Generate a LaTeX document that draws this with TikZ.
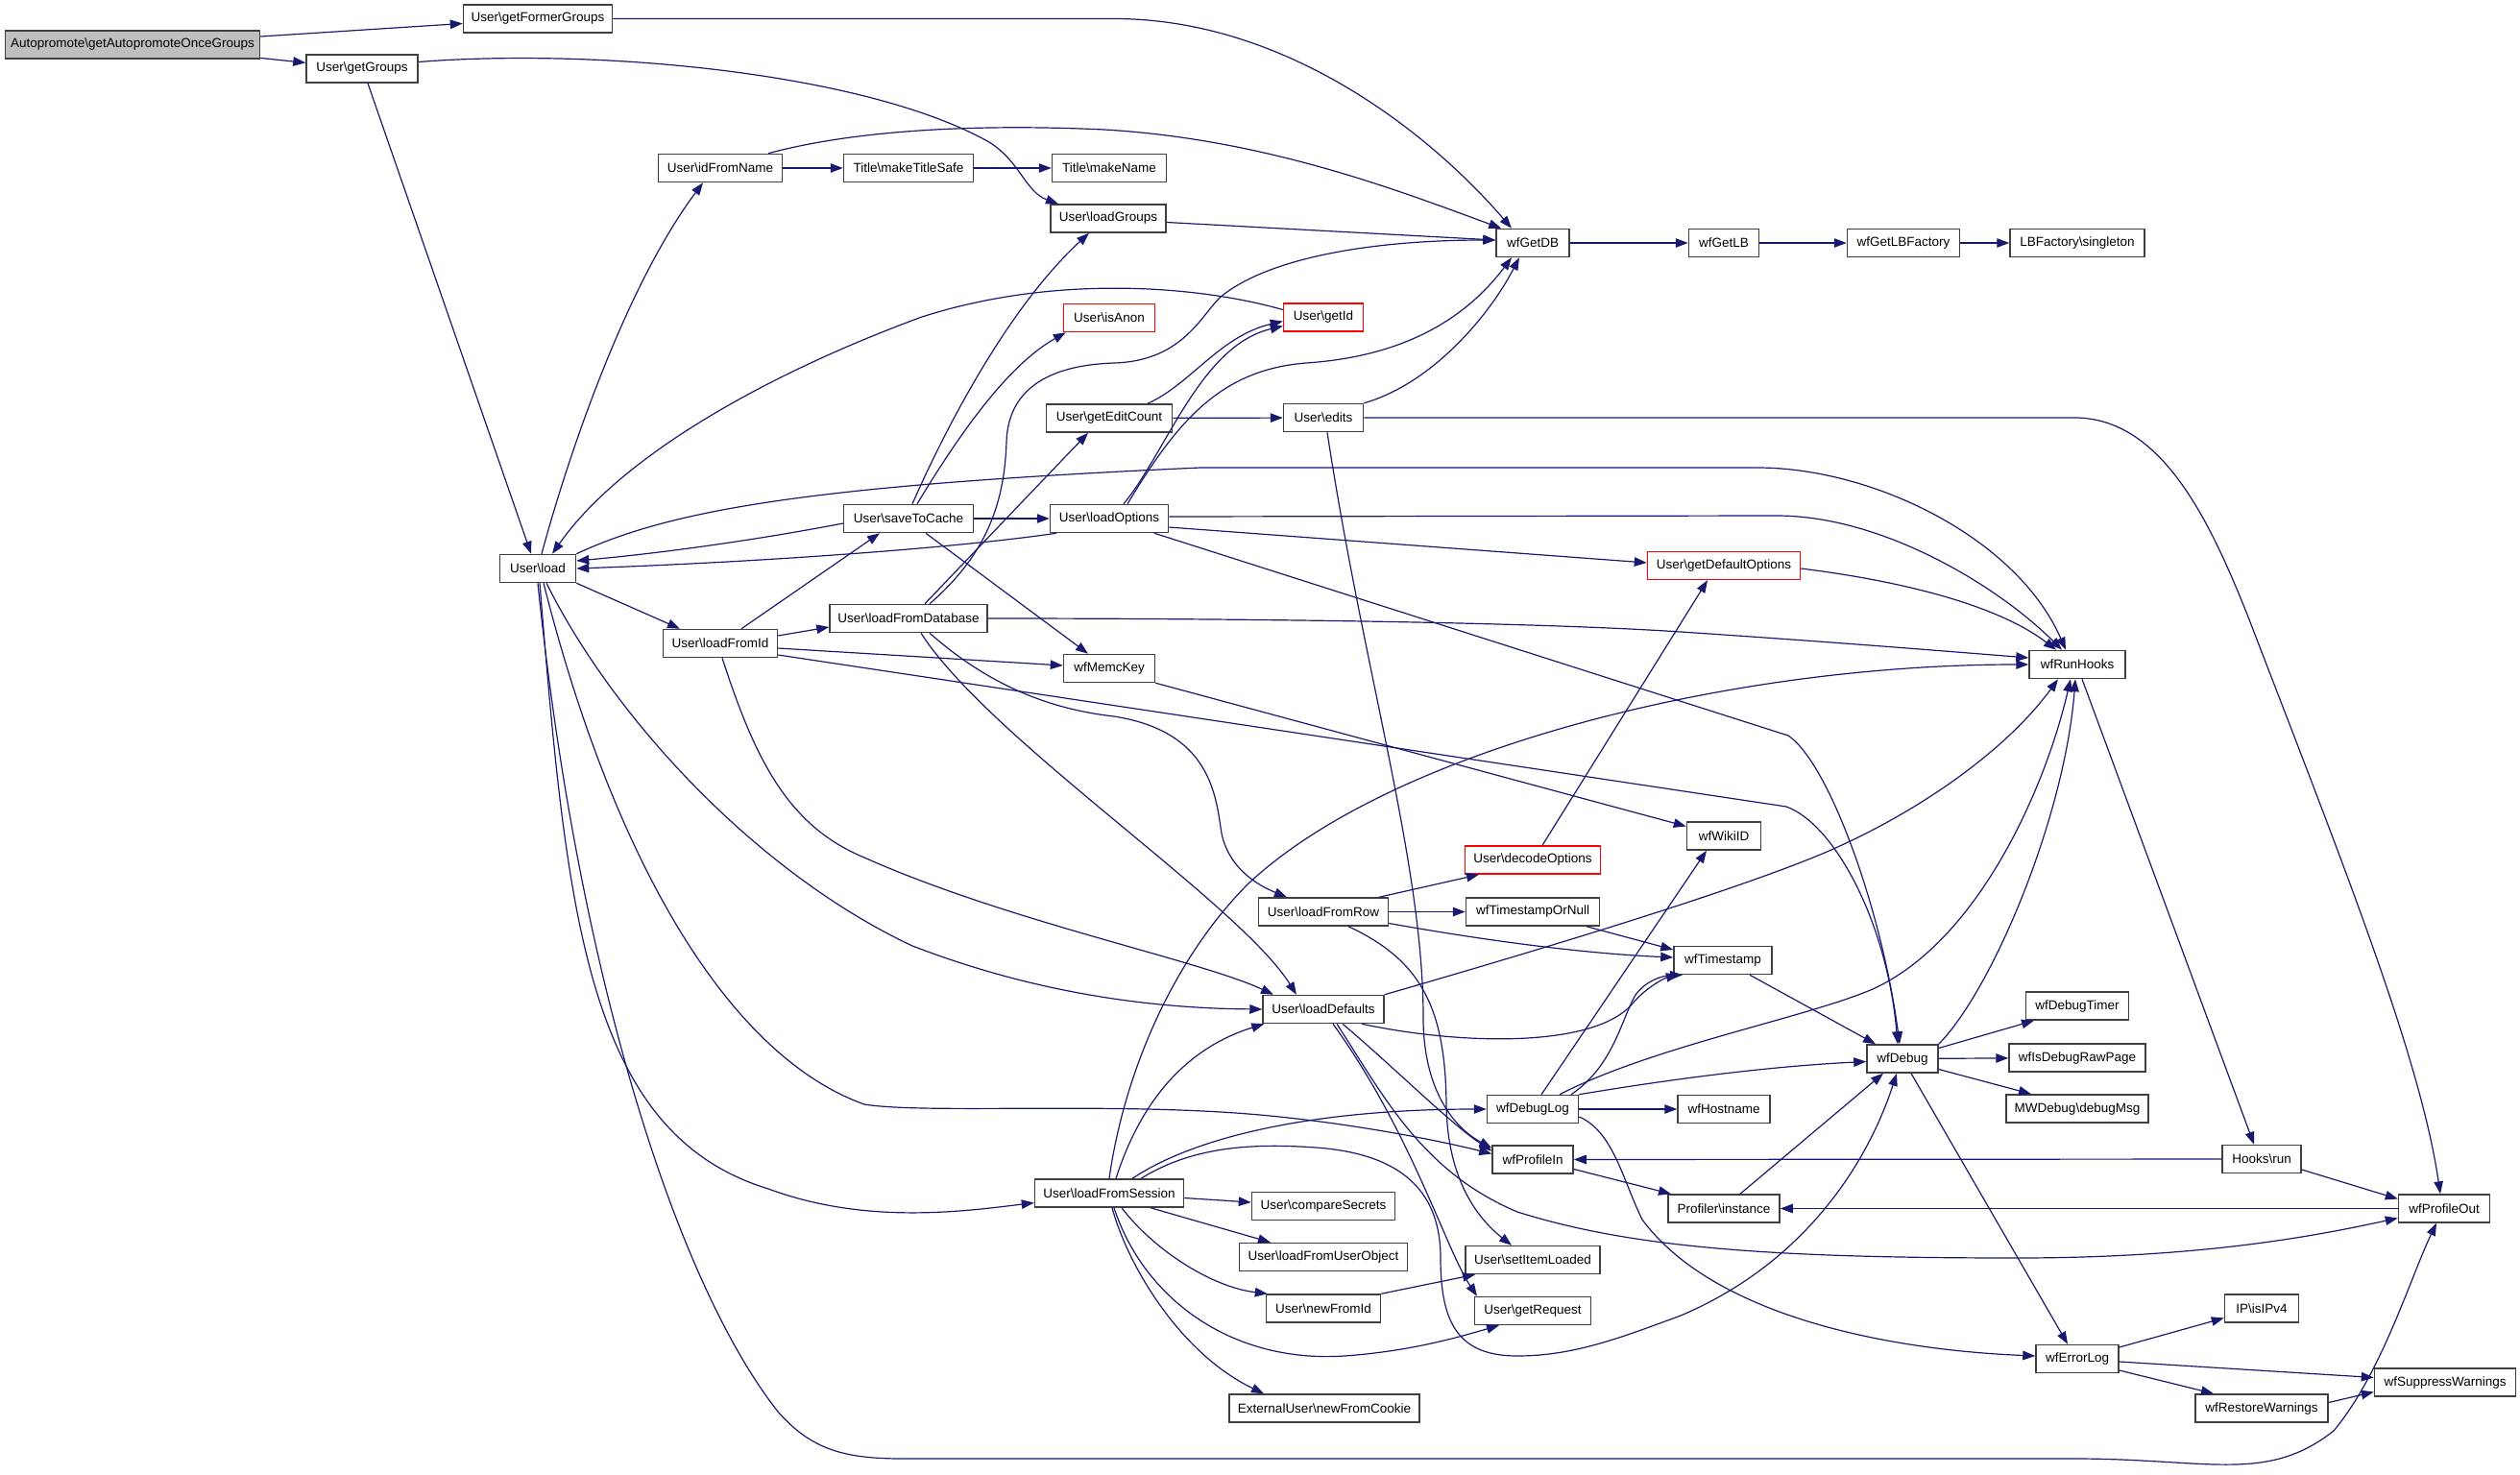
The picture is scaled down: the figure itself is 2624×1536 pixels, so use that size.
\documentclass[tikz,border=0pt]{standalone}
\usepackage{fontspec}
\setmainfont{Liberation Sans}
\usetikzlibrary{arrows.meta}
\newcommand{\bksl}{\textbackslash}
\definecolor{edgeblue}{HTML}{191970}
\definecolor{boxgray}{HTML}{BFBFBF}
\begin{document}
\begin{tikzpicture}[x=1pt,y=-1pt,
  fn/.style={draw=black!75, line width=1.5pt, rectangle, minimum height=29pt, inner sep=0pt,
    font=\fontsize{13.5}{16}\selectfont, fill=white},
  redbox/.style={draw=red},
  conn/.style={draw=edgeblue, line width=1.2pt, -{Triangle[length=13pt,width=9.5pt]}}]
\useasboundingbox (0,0) rectangle (2624,1536);
% nodes
\node[fn, minimum width=265pt, fill=boxgray] (auto) at (138,46.5) {Autopromote\bksl getAutopromoteOnceGroups};
\node[fn, minimum width=155pt] (formerGroups) at (560,19.5) {User\bksl getFormerGroups};
\node[fn, minimum width=116pt] (getGroups) at (377,71.5) {User\bksl getGroups};
\node[fn, minimum width=129pt] (idFromName) at (750,175) {User\bksl idFromName};
\node[fn, minimum width=135pt] (makeTitleSafe) at (946,175) {Title\bksl makeTitleSafe};
\node[fn, minimum width=119pt] (makeName) at (1155,175) {Title\bksl makeName};
\node[fn, minimum width=120pt] (loadGroups) at (1154,227.5) {User\bksl loadGroups};
\node[fn, minimum width=76pt] (wfGetDB) at (1596,253) {wfGetDB};
\node[fn, minimum width=73pt] (wfGetLB) at (1795,253) {wfGetLB};
\node[fn, minimum width=117pt] (wfGetLBFactory) at (1982,253) {wfGetLBFactory};
\node[fn, minimum width=140pt] (LBsingleton) at (2163,253) {LBFactory\bksl singleton};
\node[fn, redbox, minimum width=95pt] (isAnon) at (1155,331) {User\bksl isAnon};
\node[fn, redbox, minimum width=83pt] (getId) at (1378,330.5) {User\bksl getId};
\node[fn, minimum width=131pt] (getEditCount) at (1155,435.5) {User\bksl getEditCount};
\node[fn, minimum width=83pt] (edits) at (1378,435) {User\bksl edits};
\node[fn, minimum width=135pt] (saveToCache) at (946,540) {User\bksl saveToCache};
\node[fn, minimum width=123pt] (loadOptions) at (1155,540) {User\bksl loadOptions};
\node[fn, minimum width=79pt] (load) at (560,592) {User\bksl load};
\node[fn, redbox, minimum width=159pt] (getDefaultOptions) at (1795,589) {User\bksl getDefaultOptions};
\node[fn, minimum width=164pt] (loadFromDatabase) at (946,644) {User\bksl loadFromDatabase};
\node[fn, minimum width=119pt] (loadFromId) at (750,670) {User\bksl loadFromId};
\node[fn, minimum width=95pt] (wfMemcKey) at (1155,696) {wfMemcKey};
\node[fn, minimum width=100pt] (wfRunHooks) at (2163,692) {wfRunHooks};
\node[fn, minimum width=77pt] (wfWikiID) at (1795,870.5) {wfWikiID};
\node[fn, redbox, minimum width=141pt] (decodeOptions) at (1596,895.5) {User\bksl decodeOptions};
\node[fn, minimum width=135pt] (loadFromRow) at (1378,949.5) {User\bksl loadFromRow};
\node[fn, minimum width=139pt] (wfTimestampOrNull) at (1596,949.5) {wfTimestampOrNull};
\node[fn, minimum width=102pt] (wfTimestamp) at (1794,1000) {wfTimestamp};
\node[fn, minimum width=126pt] (loadDefaults) at (1378,1051) {User\bksl loadDefaults};
\node[fn, minimum width=107pt] (wfDebugTimer) at (2163,1047.5) {wfDebugTimer};
\node[fn, minimum width=74pt] (wfDebug) at (1981,1102.5) {wfDebug};
\node[fn, minimum width=142pt] (wfIsDebugRawPage) at (2163,1101.5) {wfIsDebugRawPage};
\node[fn, minimum width=95pt] (wfDebugLog) at (1596,1155) {wfDebugLog};
\node[fn, minimum width=96pt] (wfHostname) at (1795,1155) {wfHostname};
\node[fn, minimum width=148pt] (debugMsg) at (2163,1154.5) {MWDebug\bksl debugMsg};
\node[fn, minimum width=84pt] (wfProfileIn) at (1596,1207.5) {wfProfileIn};
\node[fn, minimum width=82pt] (hooksRun) at (2355,1207) {Hooks\bksl run};
\node[fn, minimum width=155pt] (loadFromSession) at (1155,1242.5) {User\bksl loadFromSession};
\node[fn, minimum width=149pt] (compareSecrets) at (1378,1256) {User\bksl compareSecrets};
\node[fn, minimum width=116pt] (profilerInstance) at (1795,1258.5) {Profiler\bksl instance};
\node[fn, minimum width=95pt] (wfProfileOut) at (2545,1258.5) {wfProfileOut};
\node[fn, minimum width=175pt] (loadFromUserObject) at (1378,1309) {User\bksl loadFromUserObject};
\node[fn, minimum width=140pt] (setItemLoaded) at (1596,1312) {User\bksl setItemLoaded};
\node[fn, minimum width=119pt] (newFromId) at (1378,1362.5) {User\bksl newFromId};
\node[fn, minimum width=121pt] (getRequest) at (1596,1365) {User\bksl getRequest};
\node[fn, minimum width=77pt] (isIPv4) at (2355,1362.5) {IP\bksl isIPv4};
\node[fn, minimum width=86pt] (wfErrorLog) at (2163,1415) {wfErrorLog};
\node[fn, minimum width=147pt] (wfSuppressWarnings) at (2546,1439.5) {wfSuppressWarnings};
\node[fn, minimum width=198pt] (newFromCookie) at (1379,1466.5) {ExternalUser\bksl newFromCookie};
\node[fn, minimum width=138pt] (wfRestoreWarnings) at (2355,1466.5) {wfRestoreWarnings};
% edges
\draw[conn] (auto) -- (formerGroups);
\draw[conn] (auto) -- (getGroups);
\draw[conn] (formerGroups.east) -- (1160,19.5) .. controls (1340,19.5) and (1490,140) .. ([xshift=-22pt]wfGetDB.north);
\draw[conn] ([yshift=7pt]getGroups.east) .. controls (620,50) and (900,75) .. (1030,148) .. controls (1062,168) and (1068,200) .. ([xshift=-52pt]loadGroups.north);
\draw[conn] ([xshift=6pt]getGroups.south) -- ([xshift=-7pt]load.north);
\draw[conn] ([xshift=4pt]load.north) .. controls (590,480) and (650,300) .. ([xshift=-18pt]idFromName.south);
\draw[conn] (idFromName) -- (makeTitleSafe);
\draw[conn] ([xshift=50pt]idFromName.north) .. controls (880,138) and (1000,128) .. (1150,135) .. controls (1320,145) and (1460,200) .. ([xshift=6pt]wfGetDB.north west);
\draw[conn] (makeTitleSafe) -- (makeName);
\draw[conn] ([yshift=-4pt]loadGroups.east) -- ([yshift=3pt]wfGetDB.west);
\draw[conn] (wfGetDB) -- (wfGetLB);
\draw[conn] (wfGetLB) -- (wfGetLBFactory);
\draw[conn] (wfGetLBFactory) -- (LBsingleton);
\draw[conn] ([yshift=8pt]getId.west) .. controls (1250,298) and (1100,285) .. (960,330) .. controls (810,385) and (650,470) .. ([xshift=15pt]load.north);
\draw[conn] (load.south east) -- ([xshift=-42pt]loadFromId.north);
\draw[conn] ([xshift=9pt]load.south) .. controls (640,750) and (790,910) .. (950,985) .. controls (1080,1035) and (1200,1050) .. (loadDefaults.west);
\draw[conn] ([xshift=2pt]load.south) .. controls (590,950) and (610,1180) .. (800,1238) .. controls (900,1275) and (1000,1262) .. ([yshift=-10pt]loadFromSession.west);
\draw[conn] ([xshift=6pt]load.south) .. controls (640,900) and (760,1100) .. (900,1150) .. controls (960,1160) and (1150,1148) .. (1300,1160) .. controls (1400,1168) and (1500,1188) .. ([yshift=6pt]wfProfileIn.west);
\draw[conn] (load.south) .. controls (600,1000) and (700,1330) .. (810,1470) .. controls (845,1510) and (880,1519) .. (940,1519) -- (2160,1519) .. controls (2300,1519) and (2360,1545) .. (2430,1490) .. controls (2480,1430) and (2510,1330) .. ([xshift=-8pt]wfProfileOut.south);
\draw[conn] (load.north east) .. controls (700,530) and (850,505) .. (1250,487) -- (1830,487) .. controls (1950,487) and (2100,560) .. ([xshift=-12pt]wfRunHooks.north);
\draw[conn] ([xshift=22pt]loadFromId.north) -- ([xshift=-30pt]saveToCache.south);
\draw[conn] ([yshift=8pt]loadFromId.east) -- ([yshift=-9pt]loadFromDatabase.west);
\draw[conn] ([yshift=-5pt]loadFromId.east) -- ([yshift=3pt]wfMemcKey.west);
\draw[conn] ([yshift=-12pt]loadFromId.east) -- (1860,840) .. controls (1910,858) and (1965,960) .. ([xshift=-5pt]wfDebug.north);
\draw[conn] ([xshift=2pt]loadFromId.south) .. controls (786,790) and (820,860) .. (900,893) .. controls (1050,960) and (1250,1000) .. ([xshift=-52pt]loadDefaults.north);
\draw[conn] ([xshift=4pt]saveToCache.north) .. controls (985,445) and (1050,320) .. ([xshift=-20pt]loadGroups.south);
\draw[conn] ([xshift=9pt]saveToCache.north) .. controls (1000,450) and (1050,380) .. ([xshift=3pt]isAnon.south west);
\draw[conn] ([yshift=-5pt]saveToCache.west) .. controls (800,560) and (700,575) .. ([yshift=8pt]load.east);
\draw[conn] (saveToCache) -- (loadOptions);
\draw[conn] ([xshift=18pt]saveToCache.south) -- ([xshift=-22pt]wfMemcKey.north);
\draw[conn] ([xshift=-55pt]loadOptions.south) .. controls (1000,570) and (800,585) .. (load.east);
\draw[conn] ([xshift=15pt]loadOptions.north) .. controls (1215,470) and (1250,360) .. ([yshift=-9pt]getId.west);
\draw[conn] ([xshift=19pt]loadOptions.north) .. controls (1225,440) and (1270,385) .. (1360,378) .. controls (1450,372) and (1520,340) .. ([xshift=-22pt]wfGetDB.south);
\draw[conn] ([yshift=2pt]loadOptions.east) -- (1850,537) .. controls (1960,537) and (2080,610) .. ([xshift=-16pt]wfRunHooks.north);
\draw[conn] ([yshift=-9pt]loadOptions.east) -- ([yshift=3pt]getDefaultOptions.west);
\draw[conn] ([xshift=47pt]loadOptions.south) -- (1862,766) .. controls (1905,795) and (1960,950) .. ([xshift=-3pt]wfDebug.north);
\draw[conn] ([yshift=-3pt]getDefaultOptions.east) .. controls (1980,605) and (2080,630) .. ([xshift=-22pt]wfRunHooks.north);
\draw[conn] ([xshift=22pt]loadFromDatabase.north) .. controls (1030,575) and (1046,520) .. (1048,460) .. controls (1050,400) and (1100,380) .. (1160,378) .. controls (1230,376) and (1250,330) .. (1270,310) .. controls (1320,268) and (1430,250) .. ([yshift=3pt]wfGetDB.west);
\draw[conn] ([xshift=17pt]loadFromDatabase.north) -- ([xshift=-22pt]getEditCount.south);
\draw[conn] (loadFromDatabase.east) .. controls (1300,644) and (1600,648) .. (1750,658) .. controls (1900,668) and (2000,676) .. ([yshift=7pt]wfRunHooks.west);
\draw[conn] ([xshift=22pt]loadFromDatabase.south) .. controls (1020,705) and (1080,737) .. (1160,746) .. controls (1262,762) and (1266,830) .. (1272,868) .. controls (1280,905) and (1310,922) .. ([xshift=-38pt]loadFromRow.north);
\draw[conn] ([xshift=13pt]loadFromDatabase.south) .. controls (1030,770) and (1290,940) .. ([xshift=-28pt]loadDefaults.north);
\draw[conn] ([xshift=40pt]getEditCount.north) .. controls (1240,400) and (1270,350) .. ([yshift=-4pt]getId.west);
\draw[conn] (getEditCount) -- (edits);
\draw[conn] (edits.north east) .. controls (1490,400) and (1550,330) .. ([xshift=-14pt]wfGetDB.south);
\draw[conn] (edits.east) -- (2160,435) .. controls (2250,435) and (2300,540) .. (2340,640) .. controls (2440,900) and (2520,1100) .. ([xshift=-4pt]wfProfileOut.north);
\draw[conn] ([xshift=4pt]edits.south) .. controls (1420,700) and (1482,900) .. (1482,1060) .. controls (1482,1130) and (1510,1172) .. ([yshift=12pt]wfProfileIn.west);
\draw[conn] (wfMemcKey.south east) -- ([yshift=10pt]wfWikiID.west);
\draw[conn] ([xshift=10pt]decodeOptions.north) -- ([xshift=-17pt]getDefaultOptions.south);
\draw[conn] ([xshift=58pt]loadFromRow.north) -- ([xshift=-56pt]decodeOptions.south);
\draw[conn] (loadFromRow) -- (wfTimestampOrNull);
\draw[conn] ([yshift=-12pt]loadFromRow.east) .. controls (1550,980) and (1650,993) .. ([yshift=3pt]wfTimestamp.west);
\draw[conn] ([xshift=26pt]loadFromRow.south) .. controls (1480,1000) and (1505,1050) .. (1506,1150) .. controls (1507,1230) and (1540,1270) .. ([xshift=-22pt]setItemLoaded.north);
\draw[conn] ([xshift=56pt]wfTimestampOrNull.south) -- ([yshift=11pt]wfTimestamp.west);
\draw[conn] (loadDefaults.north east) .. controls (1600,990) and (1800,930) .. (1900,888) .. controls (2000,845) and (2090,780) .. ([xshift=-20pt]wfRunHooks.south);
\draw[conn] ([xshift=40pt]loadDefaults.south) .. controls (1520,1088) and (1660,1092) .. (1700,1045) .. controls (1715,1027) and (1735,1018) .. ([xshift=-46pt]wfTimestamp.south);
\draw[conn] ([xshift=20pt]loadDefaults.south) .. controls (1450,1110) and (1510,1170) .. ([yshift=9pt]wfProfileIn.west);
\draw[conn] ([xshift=14pt]loadDefaults.south) .. controls (1440,1140) and (1480,1220) .. (1580,1262) .. controls (1700,1300) and (1850,1310) .. (2100,1310) .. controls (2300,1310) and (2420,1285) .. ([yshift=-10pt]wfProfileOut.west);
\draw[conn] ([xshift=10pt]loadDefaults.south) .. controls (1470,1180) and (1505,1300) .. ([xshift=-58pt]getRequest.north);
\draw[conn] (loadFromSession.north) .. controls (1170,1120) and (1220,1000) .. (1300,920) .. controls (1450,780) and (1800,692) .. (wfRunHooks.west);
\draw[conn] ([xshift=7pt]loadFromSession.north) .. controls (1190,1140) and (1240,1090) .. ([xshift=2pt]loadDefaults.south west);
\draw[conn] ([xshift=24pt]loadFromSession.north) .. controls (1250,1180) and (1380,1155) .. (wfDebugLog.west);
\draw[conn] ([xshift=33pt]loadFromSession.north) .. controls (1240,1195) and (1300,1190) .. (1370,1195) .. controls (1470,1202) and (1500,1250) .. (1500,1310) .. controls (1500,1380) and (1520,1412) .. (1580,1412) .. controls (1640,1412) and (1690,1392) .. (1750,1370) .. controls (1880,1315) and (1945,1210) .. ([xshift=-6pt]wfDebug.south);
\draw[conn] ([yshift=-5pt]loadFromSession.east) -- ([yshift=4pt]compareSecrets.west);
\draw[conn] ([xshift=43pt]loadFromSession.south) -- ([xshift=-55pt]loadFromUserObject.north);
\draw[conn] ([xshift=13pt]loadFromSession.south) .. controls (1200,1300) and (1260,1340) .. ([xshift=2pt]newFromId.north west);
\draw[conn] ([xshift=5pt]loadFromSession.south) .. controls (1190,1350) and (1280,1420) .. (1400,1412) .. controls (1470,1407) and (1520,1392) .. ([xshift=-35pt]getRequest.south);
\draw[conn] ([xshift=3pt]loadFromSession.south) .. controls (1175,1320) and (1230,1410) .. ([xshift=-63pt]newFromCookie.north);
\draw[conn] (newFromId.north east) -- ([xshift=-60pt]setItemLoaded.south);
\draw[conn] ([xshift=9pt]wfDebugLog.north) -- ([xshift=-18pt]wfWikiID.south);
\draw[conn] ([xshift=40pt]wfDebugLog.north) .. controls (1680,1110) and (1688,1062) .. (1703,1036) .. controls (1713,1022) and (1730,1016) .. ([xshift=-42pt]wfTimestamp.south);
\draw[conn] ([xshift=28pt]wfDebugLog.north) .. controls (1720,1090) and (1880,1060) .. (1950,1030) .. controls (2060,980) and (2130,820) .. ([xshift=-7pt]wfRunHooks.south);
\draw[conn] (wfDebugLog.north east) .. controls (1750,1122) and (1850,1110) .. ([yshift=-3pt]wfDebug.west);
\draw[conn] (wfDebugLog) -- (wfHostname);
\draw[conn] ([yshift=-8pt]wfDebugLog.east) .. controls (1680,1178) and (1690,1230) .. (1710,1270) .. controls (1780,1365) and (1950,1405) .. ([yshift=3pt]wfErrorLog.west);
\draw[conn] ([xshift=28pt]wfTimestamp.south) -- ([xshift=-28pt]wfDebug.north);
\draw[conn] ([yshift=-10pt]wfProfileIn.east) -- ([xshift=-55pt]profilerInstance.north);
\draw[conn] (hooksRun) -- (wfProfileIn);
\draw[conn] ([yshift=-11pt]hooksRun.east) -- ([yshift=10pt]wfProfileOut.west);
\draw[conn] ([xshift=5pt]wfRunHooks.south) -- ([xshift=-8pt]hooksRun.north);
\draw[conn] (wfProfileOut) -- (profilerInstance);
\draw[conn] ([xshift=17pt]profilerInstance.north) -- ([xshift=-20pt]wfDebug.south);
\draw[conn] ([yshift=11pt]wfDebug.east) -- ([xshift=-45pt]wfDebugTimer.south);
\draw[conn] (wfDebug) -- (wfIsDebugRawPage);
\draw[conn] ([yshift=-11pt]wfDebug.east) -- ([xshift=-48pt]debugMsg.north);
\draw[conn] ([xshift=9pt]wfDebug.south) -- ([xshift=-10pt]wfErrorLog.north);
\draw[conn] (wfDebug.north east) .. controls (2075,1030) and (2150,850) .. ([xshift=-2pt]wfRunHooks.south);
\draw[conn] ([yshift=12pt]wfErrorLog.east) -- ([yshift=-10pt]isIPv4.west);
\draw[conn] ([yshift=-3pt]wfErrorLog.east) -- ([yshift=5pt]wfSuppressWarnings.west);
\draw[conn] ([yshift=-12pt]wfErrorLog.east) -- ([xshift=-50pt]wfRestoreWarnings.north);
\draw[conn] ([yshift=6pt]wfRestoreWarnings.east) -- ([yshift=-10pt]wfSuppressWarnings.west);
\end{tikzpicture}
\end{document}
